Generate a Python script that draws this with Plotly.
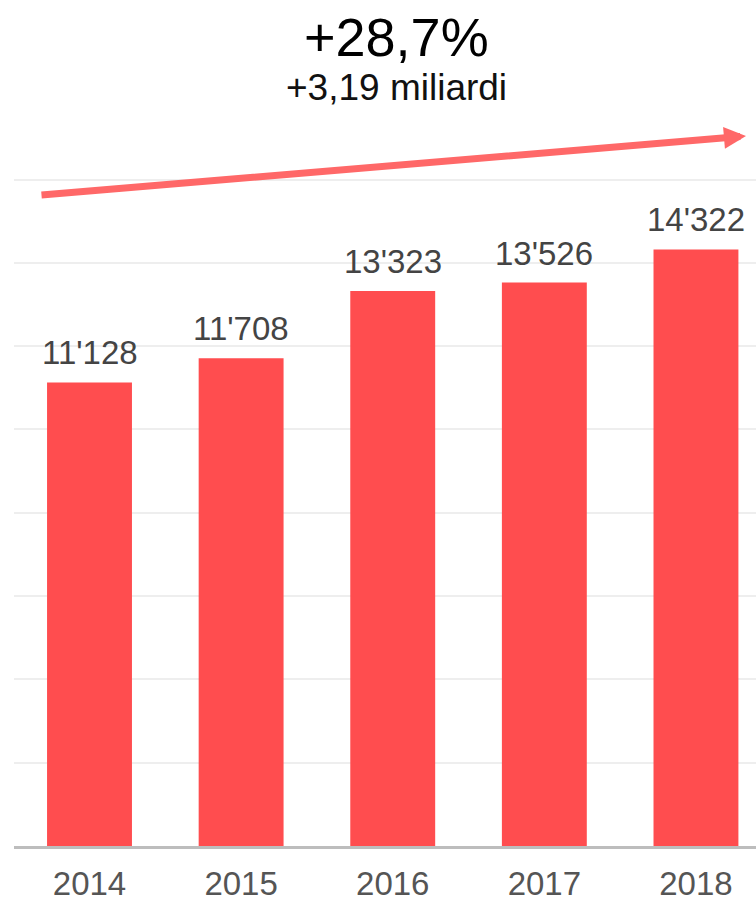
'''
    Bar chart of yearly values 2014-2018 with a growth arrow above.
'''

import plotly.graph_objects as go

years = ['2014', '2015', '2016', '2017', '2018']
values = [11128, 11708, 13323, 13526, 14322]
grid_ticks = [2000, 4000, 6000, 8000, 10000, 12000, 14000, 16000]
headline = '+28,7%'
subline = '+3,19 miliardi'

FONT = 'Liberation Sans, Arial, sans-serif'
BAR_RED = '#ff4d4f'
ARROW_RED = '#ff6868'

xs = list(range(len(years)))
labels = [f'{v:,}'.replace(',', "'") for v in values]

fig = go.Figure(go.Bar(
    x=xs,
    y=values,
    width=0.56,
    marker=dict(color=BAR_RED, line=dict(width=0)),
    hoverinfo='skip'))

# value labels above each bar
for x, v, lab in zip(xs, values, labels):
    fig.add_annotation(x=x, y=v, text=lab, showarrow=False,
                       xanchor='center', yanchor='bottom', yshift=9,
                       font=dict(family=FONT, size=33, color='#444444'))

# growth headline
fig.add_annotation(xref='paper', yref='paper', x=0.515, y=0.956,
                   text=headline, showarrow=False, yanchor='middle',
                   font=dict(family=FONT, size=54, color='#000000'))
fig.add_annotation(xref='paper', yref='paper', x=0.515, y=0.897,
                   text=subline, showarrow=False, yanchor='middle',
                   font=dict(family=FONT, size=37, color='#111111'))

# trend arrow
fig.add_annotation(xref='paper', yref='paper', x=0.9865, y=0.8392,
                   axref='pixel', ayref='pixel', ax=-706, ay=59,
                   text='', showarrow=True, arrowhead=2, arrowsize=0.63,
                   arrowwidth=7, arrowcolor=ARROW_RED, standoff=0)

fig.update_layout(
    width=756, height=900,
    margin=dict(l=14, r=0, t=0, b=54, autoexpand=False),
    plot_bgcolor='white', paper_bgcolor='white',
    showlegend=False,
    font=dict(family=FONT))

fig.update_xaxes(
    range=[-0.498, 4.396],
    tickvals=xs, ticktext=years,
    tickfont=dict(family=FONT, size=33, color='#555555'),
    ticks='', ticklabelstandoff=6, automargin=False,
    showline=True, linecolor='#bdbdbd', linewidth=3,
    showgrid=False, zeroline=False)

fig.update_yaxes(
    range=[0, 20309],
    tickvals=grid_ticks, showticklabels=False, automargin=False,
    showgrid=True, gridcolor='#eeeeee', gridwidth=1.5,
    zeroline=False, showline=False)

fig.write_html('out.html',
               config={'displayModeBar': False},
               post_script="document.body.style.margin='0';"
                           "document.body.style.overflow='hidden';")
